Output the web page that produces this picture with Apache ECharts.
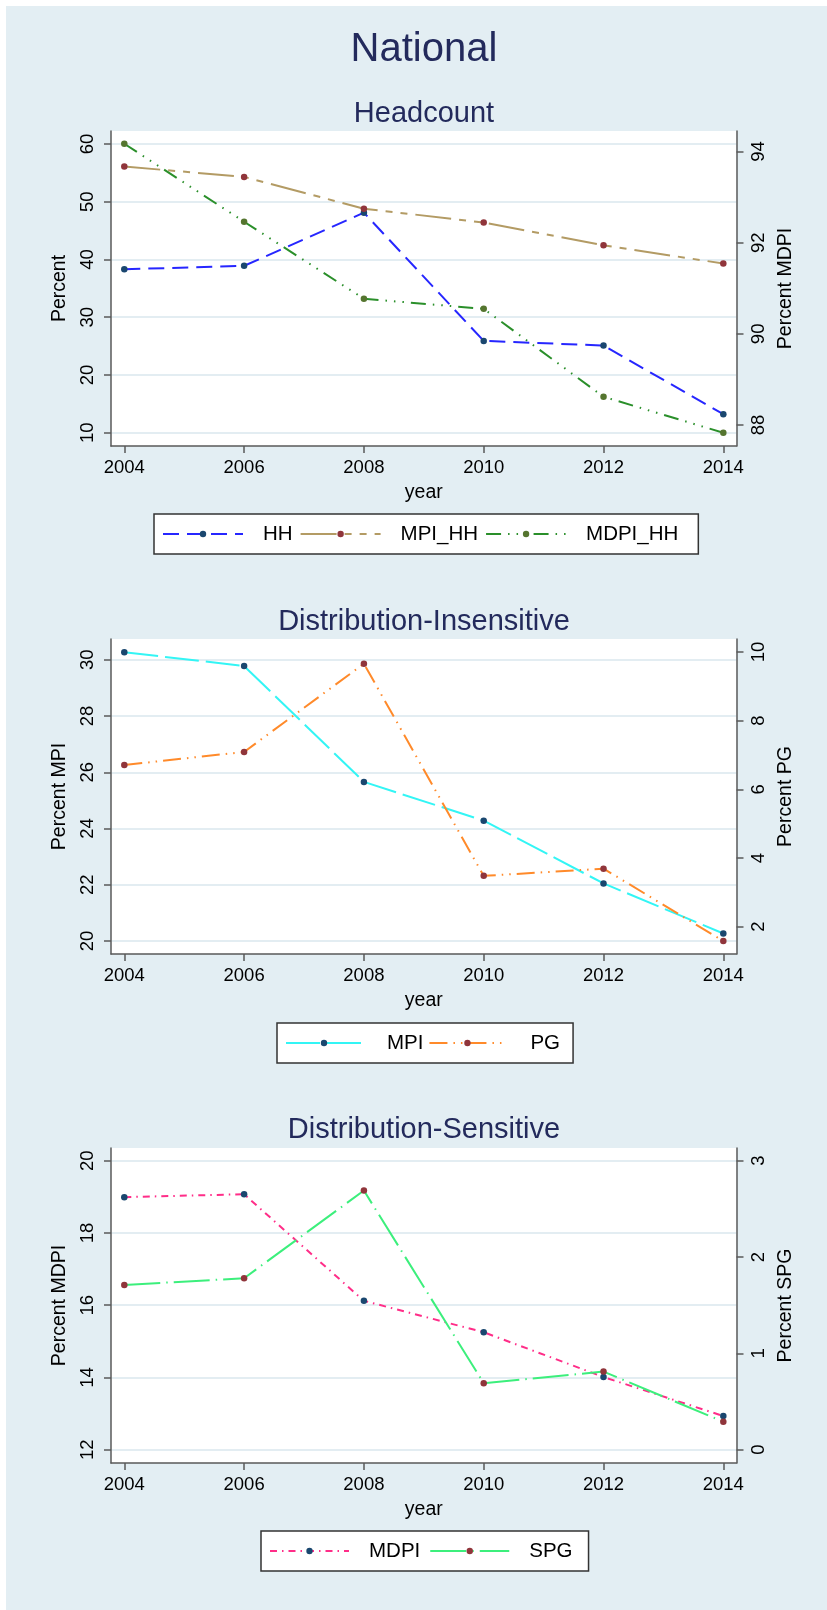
<!DOCTYPE html>
<html>
<head>
<meta charset="utf-8">
<script src="https://cdn.jsdelivr.net/npm/echarts@6/dist/echarts.min.js"></script>
<style>
  html, body { margin: 0; padding: 0; background: #ffffff; }
  #wrap { position: relative; width: 827px; height: 1610px; }
  #chart { position: absolute; left: 0; top: 0; width: 827px; height: 1610px; }
  /* thin white frame along the top and left edges */
  #edgeTop { position: absolute; left: 0; top: 0; width: 827px; height: 6px; background: #ffffff; pointer-events: none; }
  #edgeLeft { position: absolute; left: 0; top: 0; width: 6px; height: 1610px; background: #ffffff; pointer-events: none; }
</style>
</head>
<body>
<div id="wrap">
  <div id="chart"></div>
  <div id="edgeTop"></div>
  <div id="edgeLeft"></div>
</div>
<script>
// ---- data ----
const years = [2004, 2006, 2008, 2010, 2012, 2014];

// Headcount panel
const hh     = [38.3, 38.9, 48.1, 25.9, 25.1, 13.2];
const mpiHH  = [56.1, 54.3, 48.8, 46.4, 42.45, 39.3];
const mdpiHH = [94.17, 92.46, 90.77, 90.55, 88.62, 87.83];

// Distribution-insensitive panel
const mpi = [30.27, 29.78, 25.66, 24.28, 22.05, 20.27];
const pg  = [6.71, 7.09, 9.66, 3.48, 3.69, 1.58];

// Distribution-sensitive panel
const mdpi = [18.99, 19.07, 16.12, 15.25, 14.01, 12.93];
const spg  = [1.71, 1.78, 2.69, 0.69, 0.81, 0.29];

// tick labels
const ticksHeadLeft  = [10, 20, 30, 40, 50, 60];
const ticksHeadRight = [88, 90, 92, 94];
const ticksInsLeft   = [20, 22, 24, 26, 28, 30];
const ticksInsRight  = [2, 4, 6, 8, 10];
const ticksSenLeft   = [12, 14, 16, 18, 20];
const ticksSenRight  = [0, 1, 2, 3];

// ---- styling ----
const FONT = "'Liberation Sans', Arial, Helvetica, sans-serif";
const BG = '#e3eef3';
const AXIS = '#5a5a5a';
const GRIDLINE = '#e3edf2';
const TITLE = '#232a5c';
const NAVY = '#1a476f', MAROON = '#90353b', FOREST = '#55752f';

const gridTops = [131, 639, 1148];
const gridH = 315;

function xAxisFor(gi) {
  return {
    type: 'value', gridIndex: gi, min: 2003.778, max: 2014.22,
    name: 'year', nameLocation: 'middle', nameGap: 37,
    nameTextStyle: { fontSize: 19.5, color: '#000', fontFamily: FONT },
    axisLine: { show: true, onZero: false, lineStyle: { color: AXIS, width: 1.5 } },
    axisTick: { show: true, length: 7, customValues: years, lineStyle: { color: AXIS, width: 1.5 } },
    axisLabel: { customValues: years, fontSize: 18.5, color: '#000', fontFamily: FONT, margin: 12,
                 formatter: v => String(v) },
    splitLine: { show: false }
  };
}

function yAxisFor(gi, pos, name, min, max, ticks, grid) {
  return {
    type: 'value', gridIndex: gi, position: pos, min: min, max: max,
    name: name, nameLocation: 'middle', nameRotate: 90, nameGap: pos === 'left' ? 39 : 36.5,
    nameTextStyle: { fontSize: 19.5, color: '#000', fontFamily: FONT },
    axisLine: { show: true, onZero: false, lineStyle: { color: AXIS, width: 1.5 } },
    axisTick: { show: true, length: 7, customValues: ticks, lineStyle: { color: AXIS, width: 1.5 } },
    axisLabel: { customValues: ticks, rotate: 90, fontSize: 18.5, color: '#000', fontFamily: FONT,
                 margin: pos === 'left' ? 14 : 12.5, formatter: v => String(v) },
    splitLine: { show: grid, lineStyle: { color: GRIDLINE, width: 2 } }
  };
}

function lineSeries(name, values, gi, yi, lineColor, markerColor, dash) {
  return {
    type: 'line', name: name, xAxisIndex: gi, yAxisIndex: yi,
    data: years.map((y, i) => [y, values[i]]),
    symbol: 'circle', symbolSize: 6.5,
    itemStyle: { color: markerColor },
    lineStyle: { color: lineColor, width: 2, type: dash },
    emphasis: { disabled: true },
    animation: false
  };
}

function legendFor(names, left, top, itemWidth, textPad, itemGap, padding) {
  return {
    data: names, left: left, top: top, orient: 'horizontal',
    backgroundColor: '#ffffff', borderColor: '#333333', borderWidth: 1.5, borderRadius: 0,
    padding: padding, itemWidth: itemWidth, itemHeight: 8, itemGap: itemGap,
    selectedMode: false,
    textStyle: { fontSize: 20.5, lineHeight: 19, color: '#000', fontFamily: FONT, padding: [0, 0, 0, textPad] }
  };
}

function titleText(text, cx, cy, size) {
  return {
    type: 'text', x: cx, y: cy, silent: true,
    style: { text: text, fill: TITLE, fontSize: size, fontFamily: FONT, align: 'center', verticalAlign: 'middle' }
  };
}

const option = {
  backgroundColor: BG,
  animation: false,
  graphic: [
    titleText('National', 424, 49.5, 40),
    titleText('Headcount', 424, 113.5, 29),
    titleText('Distribution-Insensitive', 424, 621.5, 29),
    titleText('Distribution-Sensitive', 424, 1129.5, 29)
  ],
  grid: gridTops.map(t => ({
    left: 111, right: 90.5, top: t, height: gridH,
    show: true, backgroundColor: '#ffffff', borderWidth: 0, containLabel: false
  })),
  xAxis: [xAxisFor(0), xAxisFor(1), xAxisFor(2)],
  yAxis: [
    yAxisFor(0, 'left', 'Percent', 7.70, 62.25, ticksHeadLeft, true),
    yAxisFor(0, 'right', 'Percent MDPI', 87.54, 94.45, ticksHeadRight, false),
    yAxisFor(1, 'left', 'Percent MPI', 19.54, 30.74, ticksInsLeft, true),
    yAxisFor(1, 'right', 'Percent PG', 1.204, 10.38, ticksInsRight, false),
    yAxisFor(2, 'left', 'Percent MDPI', 11.63, 20.35, ticksSenLeft, true),
    yAxisFor(2, 'right', 'Percent SPG', -0.139, 3.132, ticksSenRight, false)
  ],
  legend: [
    legendFor(['HH', 'MPI_HH', 'MDPI_HH'], 154, 514, 80, 15, 7, [9.5, 20, 9.5, 8]),
    legendFor(['MPI', 'PG'], 277, 1023, 76, 20, 5, [9.5, 13, 9.5, 8]),
    legendFor(['MDPI', 'SPG'], 261, 1531, 79, 15, 9, [9.5, 16, 9.5, 8])
  ],
  series: [
    lineSeries('HH', hh, 0, 0, '#2626ff', NAVY, [16, 8]),
    lineSeries('MPI_HH', mpiHH, 0, 0, '#b39b64', MAROON, [36, 8, 7, 8, 7, 8]),
    lineSeries('MDPI_HH', mdpiHH, 0, 1, '#2a8f2a', FOREST, [15, 7, 1.5, 7, 1.5, 7, 1.5, 7]),
    lineSeries('MPI', mpi, 1, 2, '#33f5f5', NAVY, [34, 7]),
    lineSeries('PG', pg, 1, 3, '#ff8a2a', MAROON, [18, 6, 1.5, 6, 1.5, 6]),
    lineSeries('MDPI', mdpi, 2, 4, '#ff2d88', NAVY, [7, 5, 1.5, 5]),
    lineSeries('SPG', spg, 2, 5, '#3cef7c', MAROON, [36, 6, 1.5, 6])
  ]
};

const chart = echarts.init(document.getElementById('chart'), null, { renderer: 'canvas' });
chart.setOption(option);
</script>
</body>
</html>
